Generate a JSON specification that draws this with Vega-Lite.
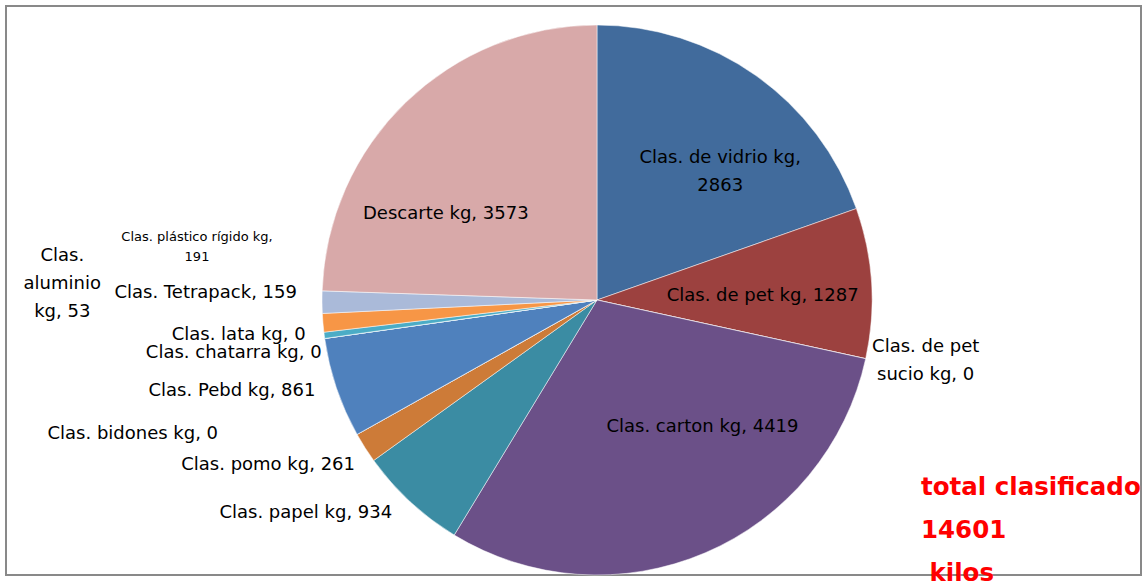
{
  "$schema": "https://vega.github.io/schema/vega-lite/v6.json",
  "width": 1135,
  "height": 569,
  "autosize": {"type": "none"},
  "padding": {"left": 6, "top": 6, "right": 4, "bottom": 11},
  "background": "white",
  "view": {"stroke": "#898989", "strokeWidth": 2, "fill": "white"},
  "config": {
    "view": {"stroke": "#898989", "strokeWidth": 2},
    "text": {"font": "DejaVu Sans", "fontSize": 18, "fill": "#000000", "lineBreak": "\n", "lineHeight": 28, "baseline": "middle"}
  },
  "title": {
    "text": ["total clasificado", "14601", "\u200b kilos"],
    "orient": "bottom",
    "anchor": "start",
    "frame": "group",
    "align": "left",
    "baseline": "alphabetic",
    "dx": 915,
    "offset": -84,
    "color": "#ff0000",
    "fontSize": 24.5,
    "fontWeight": "bold",
    "font": "DejaVu Sans",
    "lineHeight": 43
  },
  "data": {
    "values": [
      {"i": 1, "cat": "Clas. de vidrio kg", "kg": 2863, "label": "Clas. de vidrio kg,\n2863"},
      {"i": 2, "cat": "Clas. de pet kg", "kg": 1287, "label": "Clas. de pet kg, 1287"},
      {"i": 3, "cat": "Clas. de pet sucio kg", "kg": 0, "label": "Clas. de pet\nsucio kg, 0"},
      {"i": 4, "cat": "Clas. carton kg", "kg": 4419, "label": "Clas. carton kg, 4419"},
      {"i": 5, "cat": "Clas. papel kg", "kg": 934, "label": "Clas. papel kg, 934"},
      {"i": 6, "cat": "Clas. pomo kg", "kg": 261, "label": "Clas. pomo kg, 261"},
      {"i": 7, "cat": "Clas. bidones kg", "kg": 0, "label": "Clas. bidones kg, 0"},
      {"i": 8, "cat": "Clas. Pebd kg", "kg": 861, "label": "Clas. Pebd kg, 861"},
      {"i": 9, "cat": "Clas. chatarra kg", "kg": 0, "label": "Clas. chatarra kg, 0"},
      {"i": 10, "cat": "Clas. lata kg", "kg": 0, "label": "Clas. lata kg, 0"},
      {"i": 11, "cat": "Clas. aluminio kg", "kg": 53, "label": "Clas.\naluminio\nkg, 53"},
      {"i": 12, "cat": "Clas. Tetrapack", "kg": 159, "label": "Clas. Tetrapack, 159"},
      {"i": 13, "cat": "Clas. plástico rígido kg", "kg": 191, "label": "Clas. plástico rígido kg,\n191"},
      {"i": 14, "cat": "Descarte kg", "kg": 3573, "label": "Descarte kg, 3573"}
    ]
  },
  "encoding": {
    "theta": {"field": "kg", "type": "quantitative", "stack": true},
    "order": {"field": "i", "type": "quantitative"}
  },
  "layer": [
    {
      "mark": {"type": "arc", "outerRadius": 275, "x": {"expr": "width/2 + 23.5"}, "y": {"expr": "height/2 + 9.5"}, "stroke": "#ffffff", "strokeWidth": 0.5},
      "encoding": {
        "color": {
          "field": "cat", "type": "nominal", "legend": null,
          "scale": {
            "domain": ["Clas. de vidrio kg", "Clas. de pet kg", "Clas. de pet sucio kg", "Clas. carton kg", "Clas. papel kg", "Clas. pomo kg", "Clas. bidones kg", "Clas. Pebd kg", "Clas. chatarra kg", "Clas. lata kg", "Clas. aluminio kg", "Clas. Tetrapack", "Clas. plástico rígido kg", "Descarte kg"],
            "range": ["#416b9c", "#9c413f", "#7f7f7f", "#6b5088", "#3b8ca3", "#cd7b38", "#4f81bd", "#4f81bd", "#c0504d", "#9bbb59", "#4bacc6", "#f79646", "#aabad9", "#d8a9a9"]
          }
        }
      }
    },
    {"mark": {"type": "text", "radius": 170, "dx": 25, "dy": -3, "align": "center", "x": {"expr": "width/2 + 23.5"}, "y": {"expr": "height/2 + 9.5"}},
     "encoding": {"text": {"condition": {"test": "datum.i === 1", "field": "label"}, "value": ""}}},
    {"mark": {"type": "text", "radius": 170, "dx": -4, "dy": 6.5, "align": "center", "x": {"expr": "width/2 + 23.5"}, "y": {"expr": "height/2 + 9.5"}},
     "encoding": {"text": {"condition": {"test": "datum.i === 2", "field": "label"}, "value": ""}}},
    {"mark": {"type": "text", "radius": 170, "dx": 38.5, "dy": -29, "align": "center", "x": {"expr": "width/2 + 23.5"}, "y": {"expr": "height/2 + 9.5"}},
     "encoding": {"text": {"condition": {"test": "datum.i === 4", "field": "label"}, "value": ""}}},
    {"mark": {"type": "text", "radius": 170, "dx": -33, "dy": 36, "align": "center", "x": {"expr": "width/2 + 23.5"}, "y": {"expr": "height/2 + 9.5"}},
     "encoding": {"text": {"condition": {"test": "datum.i === 14", "field": "label"}, "value": ""}}},
    {"mark": {"type": "text", "radius": 275, "dx": 60, "dy": -12, "align": "center", "x": {"expr": "width/2 + 23.5"}, "y": {"expr": "height/2 + 9.5"}},
     "encoding": {"text": {"condition": {"test": "datum.i === 3", "field": "label"}, "value": ""}}},
    {"mark": {"type": "text", "radius": 275, "dx": -18, "dy": 11, "align": "right", "x": {"expr": "width/2 + 23.5"}, "y": {"expr": "height/2 + 9.5"}},
     "encoding": {"text": {"condition": {"test": "datum.i === 5", "field": "label"}, "value": ""}}},
    {"mark": {"type": "text", "radius": 275, "dx": -10, "dy": 17, "align": "right", "x": {"expr": "width/2 + 23.5"}, "y": {"expr": "height/2 + 9.5"}},
     "encoding": {"text": {"condition": {"test": "datum.i === 6", "field": "label"}, "value": ""}}},
    {"mark": {"type": "text", "radius": 275, "dx": -139, "dy": 0, "align": "right", "x": {"expr": "width/2 + 23.5"}, "y": {"expr": "height/2 + 9.5"}},
     "encoding": {"text": {"condition": {"test": "datum.i === 7", "field": "label"}, "value": ""}}},
    {"mark": {"type": "text", "radius": 275, "dx": -21, "dy": 3, "align": "right", "x": {"expr": "width/2 + 23.5"}, "y": {"expr": "height/2 + 9.5"}},
     "encoding": {"text": {"condition": {"test": "datum.i === 8", "field": "label"}, "value": ""}}},
    {"mark": {"type": "text", "radius": 275, "dx": -3, "dy": 14.5, "align": "right", "x": {"expr": "width/2 + 23.5"}, "y": {"expr": "height/2 + 9.5"}},
     "encoding": {"text": {"condition": {"test": "datum.i === 9", "field": "label"}, "value": ""}}},
    {"mark": {"type": "text", "radius": 275, "dx": -19, "dy": -3.5, "align": "right", "x": {"expr": "width/2 + 23.5"}, "y": {"expr": "height/2 + 9.5"}},
     "encoding": {"text": {"condition": {"test": "datum.i === 10", "field": "label"}, "value": ""}}},
    {"mark": {"type": "text", "radius": 275, "dx": -262, "dy": -79, "align": "center", "x": {"expr": "width/2 + 23.5"}, "y": {"expr": "height/2 + 9.5"}},
     "encoding": {"text": {"condition": {"test": "datum.i === 11", "field": "label"}, "value": ""}}},
    {"mark": {"type": "text", "radius": 275, "dx": -26, "dy": -30, "align": "right", "x": {"expr": "width/2 + 23.5"}, "y": {"expr": "height/2 + 9.5"}},
     "encoding": {"text": {"condition": {"test": "datum.i === 12", "field": "label"}, "value": ""}}},
    {"mark": {"type": "text", "radius": 275, "dx": -125, "dy": -65, "align": "center", "fontSize": 13, "lineHeight": 20, "x": {"expr": "width/2 + 23.5"}, "y": {"expr": "height/2 + 9.5"}},
     "encoding": {"text": {"condition": {"test": "datum.i === 13", "field": "label"}, "value": ""}}}
  ]
}
